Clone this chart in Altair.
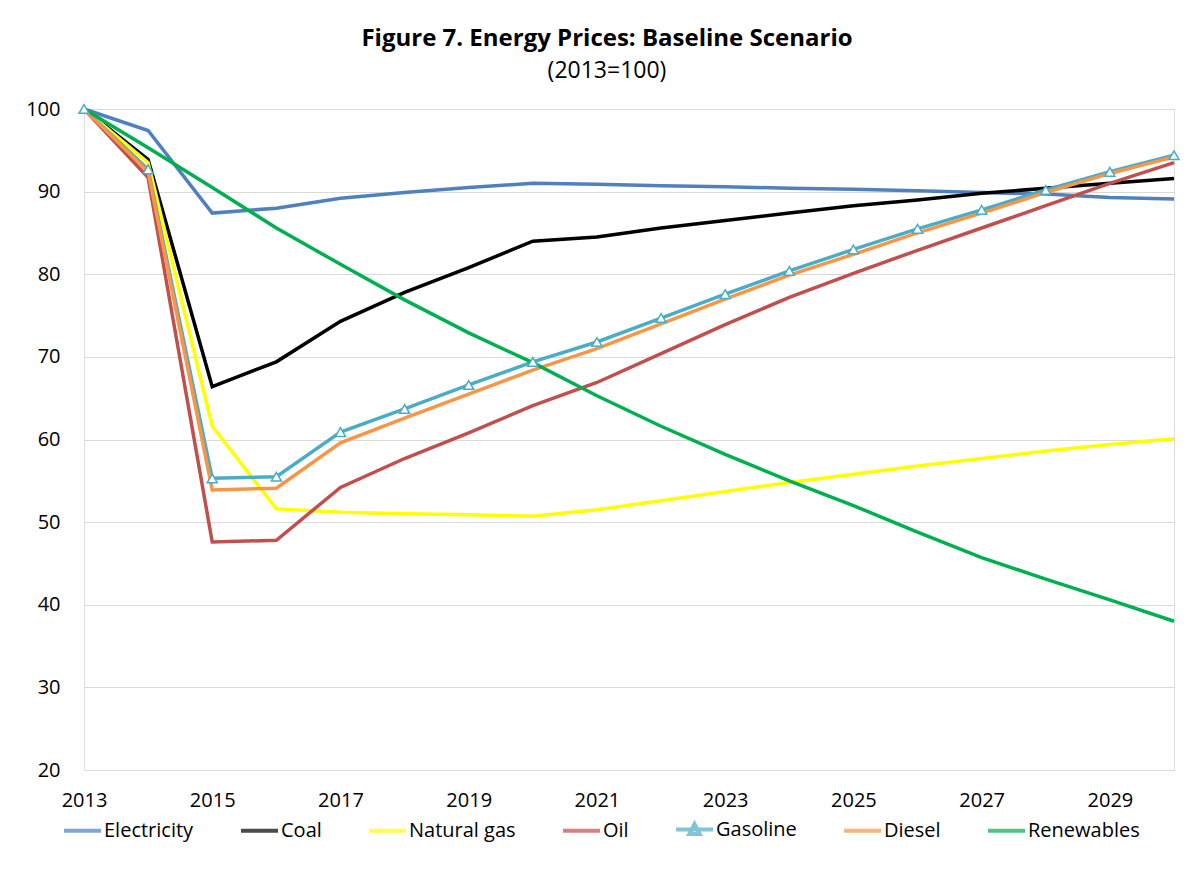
import altair as alt
import pandas as pd

years = list(range(2013, 2031))
series_names = ["Electricity", "Coal", "Natural gas", "Oil", "Gasoline", "Diesel", "Renewables"]
series_colors = ["#4F81BD", "#000000", "#FFFF00", "#C0504D", "#4BACC6", "#F79646", "#00B050"]

electricity = [100, 97.4, 87.4, 88.0, 89.2, 89.9, 90.5, 91.0, 90.9, 90.7, 90.6, 90.4, 90.3, 90.1, 89.9, 89.7, 89.3, 89.1]
coal = [100, 93.9, 66.4, 69.4, 74.3, 77.8, 80.8, 84.0, 84.5, 85.6, 86.5, 87.4, 88.3, 89.0, 89.8, 90.4, 91.0, 91.6]
natural_gas = [100, 93.5, 61.6, 51.6, 51.2, 51.0, 50.9, 50.7, 51.5, 52.6, 53.7, 54.8, 55.8, 56.8, 57.7, 58.6, 59.4, 60.1]
oil = [100, 91.7, 47.6, 47.8, 54.2, 57.7, 60.8, 64.1, 66.9, 70.4, 73.9, 77.2, 80.1, 82.9, 85.6, 88.3, 91.0, 93.5]
gasoline = [100, 92.7, 55.3, 55.5, 60.9, 63.7, 66.6, 69.4, 71.8, 74.7, 77.6, 80.4, 83.0, 85.5, 87.8, 90.2, 92.4, 94.4]
diesel = [100, 92.4, 53.9, 54.1, 59.6, 62.6, 65.5, 68.4, 71.0, 74.0, 77.0, 79.9, 82.4, 85.0, 87.4, 89.9, 92.2, 94.2]
renewables = [100, 95.3, 90.5, 85.6, 81.2, 76.9, 72.9, 69.3, 65.3, 61.6, 58.2, 55.0, 52.0, 48.8, 45.7, 43.1, 40.6, 38.0]

x_ticks = list(range(2013, 2030, 2))
y_ticks = list(range(20, 101, 10))

values = [electricity, coal, natural_gas, oil, gasoline, diesel, renewables]
rows = []
for i, (name, vals) in enumerate(zip(series_names, values)):
    for y, v in zip(years, vals):
        rows.append({"year": y, "value": v, "series": name, "k": i})
df = pd.DataFrame(rows)

FONT = "Open Sans"

stroke_path = "M-1,0H1"
tri_path = "M-1,0H1M0,-0.3L0.28,0.24L-0.28,0.24Z"
legend_shapes = [tri_path if s == "Gasoline" else stroke_path for s in series_names]

x_enc = alt.X("year:Q",
              scale=alt.Scale(domain=[2013, 2030], nice=False, zero=False),
              axis=alt.Axis(values=x_ticks, format="d", title=None, grid=False,
                            domain=False, ticks=False, tickSize=0, labelPadding=20,
                            labelFontSize=20, labelColor="#000000", labelFont=FONT,
                            labelFlush=False))
y_enc = alt.Y("value:Q",
              scale=alt.Scale(domain=[20, 100], nice=False, zero=False),
              axis=alt.Axis(values=y_ticks, title=None, domain=False, ticks=False,
                            tickSize=0, labelPadding=24, labelAlign="right",
                            labelFontSize=20, labelColor="#000000",
                            labelFont=FONT, gridColor="#D9D9D9", gridWidth=1))

legend = alt.Legend(title=None, orient="none", direction="horizontal",
                    legendX=-22, legendY=700,
                    symbolSize=1369, symbolStrokeWidth=4, columnPadding=39,
                    labelFontSize=20, labelFont=FONT,
                    labelColor="#000000", labelOffset=1, padding=0)

color_enc = alt.Color("series:N",
                      scale=alt.Scale(domain=series_names, range=series_colors),
                      legend=legend)
shape_enc = alt.Shape("series:N",
                      scale=alt.Scale(domain=series_names, range=legend_shapes),
                      legend=legend)

lines = alt.Chart(df).mark_line(strokeWidth=3.5).encode(
    x=x_enc, y=y_enc, color=color_enc, order="year:Q"
)

# legend-only layer (no rows survive the filter, so nothing is drawn)
legend_layer = alt.Chart(df).transform_filter(alt.datum.year > 3000).mark_point(
    filled=False, strokeWidth=4
).encode(x="year:Q", y="value:Q", color=color_enc, shape=shape_enc)

points = alt.Chart(df).transform_filter(alt.datum.series == "Gasoline").mark_point(
    shape="triangle-up", size=100, filled=False, fill="white", fillOpacity=1,
    stroke="#4BACC6", strokeWidth=1.5, opacity=1
).encode(x="year:Q", y="value:Q")

chart = alt.layer(lines, legend_layer, points).properties(
    width=1090, height=661,
    autosize=alt.AutoSizeParams(type="none"),
    padding={"left": 76, "top": 101, "right": 19, "bottom": 80},
    title=alt.TitleParams(text="Figure 7. Energy Prices: Baseline Scenario",
                          subtitle="(2013=100)", anchor="middle", dx=-22,
                          font=FONT, fontSize=24, fontWeight="bold", color="#000000",
                          subtitleFont=FONT, subtitleFontSize=23, subtitleColor="#000000",
                          subtitlePadding=9, offset=16)
).configure_view(stroke=None).configure(background="white")

chart.save("out.html", embed_options={"renderer": "svg", "actions": False})
